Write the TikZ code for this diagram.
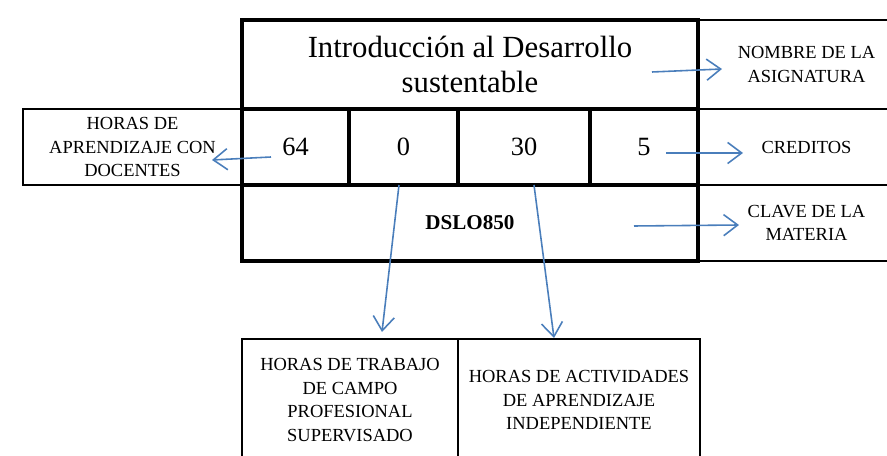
\documentclass[tikz,border=0pt]{standalone}
\usepackage{fontspec}
\setmainfont{Liberation Serif}
\usetikzlibrary{calc}
\usetikzlibrary{arrows.meta}
\definecolor{flecha}{HTML}{4A7EBB}
\tikzset{
  celda/.style={draw, line width=2.3pt, inner sep=0pt, outer sep=0pt, align=center},
  numero/.style={minimum height=1.52cm, font=\fontsize{15}{18}\selectfont},
  caja/.style={draw, line width=1.7pt, inner sep=0pt, outer sep=0pt, align=center,
    font=\fontsize{10.5}{13.5}\selectfont},
  flechita/.style={draw=flecha, line width=0.9pt, -{Straight Barb[length=8pt,width=12pt]}}
}

\begin{document}
\begin{tikzpicture}
\useasboundingbox (0,0) rectangle (17.74,9.12);
% cajas de los lados
\node[caja, minimum width=4.38cm, minimum height=1.52cm] (docentes) at (2.65,6.18) {HORAS DE\\APRENDIZAJE CON\\DOCENTES};
\node[caja, minimum width=4.34cm, minimum height=1.78cm] (nombre) at (16.13,7.83) {NOMBRE DE LA\\ASIGNATURA};
\node[caja, minimum width=4.34cm, minimum height=1.52cm] (creditos) at (16.13,6.18) {CREDITOS};
\node[caja, minimum width=4.34cm, minimum height=1.52cm] (clave) at (16.13,4.66) {CLAVE DE LA\\MATERIA};
\node[caja, minimum width=4.32cm, minimum height=2.44cm] (campo) at (7.00,1.12) {HORAS DE TRABAJO\\DE CAMPO\\PROFESIONAL\\SUPERVISADO};
\node[caja, minimum width=4.84cm, minimum height=2.44cm] (indep) at (11.58,1.12) {HORAS DE ACTIVIDADES\\DE APRENDIZAJE\\INDEPENDIENTE};
% tabla principal
\node[celda, minimum width=9.12cm, minimum height=1.78cm, font=\fontsize{17.5}{20}\selectfont] (titulo) at (9.40,7.83) {Introducción al Desarrollo\\sustentable};
\foreach \n/\x/\w in {64/5.91/2.14, 0/8.07/2.18, 30/10.48/2.64, 5/12.88/2.16}
\node[celda, numero, minimum width=\w cm] (c\n) at (\x,6.18) {\n};
\node[celda, minimum width=9.12cm, minimum height=1.52cm, font=\fontsize{12}{14}\selectfont\bfseries] (clave-m) at (9.40,4.66) {DSLO850};
% flechas
\draw[flechita] ($(titulo.east)+(-0.92,-0.15)$) -- ($(nombre.west)+(0.48,-0.09)$);
\draw[flechita] ($(c64.center)+(-0.49,-0.20)$) -- ($(docentes.east)+(-0.60,-0.26)$);
\draw[flechita] ($(c5.center)+(0.44,-0.12)$) -- ($(creditos.west)+(0.90,-0.12)$);
\draw[flechita] ($(clave-m.east)+(-1.28,-0.06)$) -- ($(clave.west)+(0.82,-0.04)$);
\draw[flechita] ($(c0.south)+(-0.09,0)$) -- ($(campo.north)+(0.64,0.14)$);
\draw[flechita] ($(c30.south)+(0.20,0)$) -- ($(indep.north)+(-0.50,0.02)$);
\end{tikzpicture}
\end{document}
